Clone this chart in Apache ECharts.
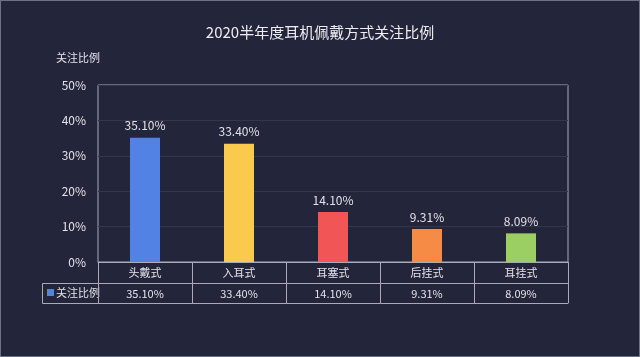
<!DOCTYPE html>
<html><head><meta charset="utf-8">
<script src="https://cdn.jsdelivr.net/npm/echarts@6/dist/echarts.min.js"></script>
<style>
html,body{margin:0;padding:0;background:#23253b;}
#c{width:638px;height:355px;border:1px solid #6d7184;}
</style></head>
<body><div id="c"></div>
<script>
const title = '2020半年度耳机佩戴方式关注比例';
const seriesName = '关注比例';
const categories = ['头戴式', '入耳式', '耳塞式', '后挂式', '耳挂式'];
const values = [35.10, 33.40, 14.10, 9.31, 8.09];
const barColors = ['#5282e3', '#f9ca4d', '#f25556', '#f68b46', '#9bcf63'];
const yTicks = [0, 10, 20, 30, 40, 50];

const font = '"Microsoft YaHei","Noto Sans CJK SC","Noto Sans",sans-serif';
const textCol = '#e2e3e8';
const lineCol = '#a9acb8';
const chart = echarts.init(document.getElementById('c'));
chart.setOption({
  backgroundColor: '#23253b',
  textStyle: {fontFamily: font},
  title: {text: title, left: 'center', top: 19,
    textStyle: {color: '#eeeef2', fontSize: 15, fontWeight: 'normal', fontFamily: font}},
  grid: {left: 97, right: 71, top: 84, bottom: 94, show: true, borderColor: lineCol, borderWidth: 1, backgroundColor: 'transparent'},
  yAxis: {
    type: 'value', min: yTicks[0], max: yTicks[yTicks.length - 1], interval: 10,
    name: seriesName, nameLocation: 'end', nameGap: 22,
    nameTextStyle: {color: textCol, fontSize: 11, align: 'right', padding: [0, -2, 0, 0]},
    axisLine: {show: false}, axisTick: {show: false},
    axisLabel: {color: textCol, fontSize: 12, margin: 12, formatter: v => v + '%'},
    splitLine: {lineStyle: {color: '#34374b', width: 1}}
  },
  xAxis: [
    {type: 'category', data: categories, position: 'bottom',
      axisLine: {show: true, lineStyle: {color: lineCol}},
      axisTick: {show: true, length: 41, inside: false, lineStyle: {color: lineCol}},
      axisLabel: {color: textCol, fontSize: 11, margin: 5}},
    {type: 'category', data: values.map(v => v.toFixed(2) + '%'), position: 'bottom', offset: 21,
      axisLine: {show: true, lineStyle: {color: lineCol}},
      axisTick: {show: false},
      axisLabel: {color: textCol, fontSize: 11, margin: 5}},
    {type: 'category', data: categories, position: 'bottom', offset: 41,
      axisLine: {show: true, lineStyle: {color: lineCol}},
      axisTick: {show: false}, axisLabel: {show: false}}
  ],
  series: [{
    name: seriesName, type: 'bar', xAxisIndex: 0, barWidth: 30,
    data: values.map((v, i) => ({value: v, itemStyle: {color: barColors[i]}})),
    label: {show: true, position: 'top', distance: 6, color: textCol, fontSize: 12,
      formatter: p => p.value.toFixed(2) + '%'}
  }],
  graphic: [
    {type: 'polyline', shape: {points: [[97.5, 282.5], [41.5, 282.5], [41.5, 302.5], [97.5, 302.5], [97.5, 282.5]]},
      style: {stroke: lineCol, fill: null, lineWidth: 1}},
    {type: 'rect', shape: {x: 46, y: 288, width: 7, height: 7}, style: {fill: barColors[0]}},
    {type: 'text', style: {text: seriesName, x: 55, y: 292, fill: textCol, font: '11px ' + font, textVerticalAlign: 'middle', verticalAlign: 'middle'}}
  ]
});
</script></body></html>
